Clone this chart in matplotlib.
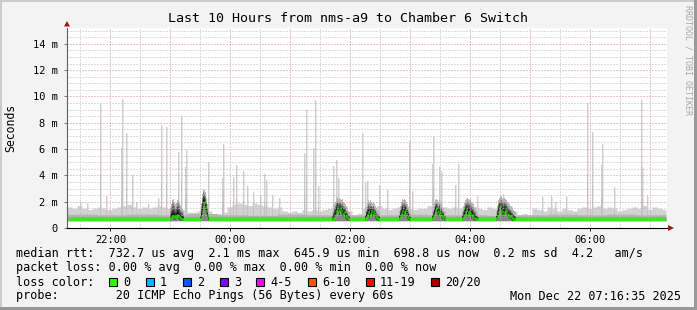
import numpy as np
import matplotlib
matplotlib.use("Agg")
import matplotlib.pyplot as plt
from matplotlib.patches import Rectangle, Polygon

# ---------------- data ----------------
START_MIN = 21 * 60 + 16 + 35 / 60.0      # left edge 21:16:35 (minutes of day)
SPAN_MIN = 600                            # 10 hours
N_DATA = 599                              # minutes with samples

# light smoke top, 5-minute bins (ms)
smoke_max_5min = [
    1.6, 1.5, 1.7, 1.5, 1.4, 1.5, 1.6, 1.5, 1.4, 1.5,
    1.6, 1.7, 1.8, 1.6, 1.5, 1.6, 1.5, 1.6, 1.7, 1.6,
    1.5, 1.7, 1.8, 1.4, 1.2, 1.2, 1.3, 1.5, 1.3, 1.1,
    1.1, 1.2, 1.6, 1.8, 1.9, 1.8, 1.7, 1.9, 1.8, 1.7,
    1.6, 1.5, 1.6, 1.3, 1.2, 1.3, 1.2, 1.4, 1.3, 1.4,
    1.3, 1.4, 1.5, 1.8, 1.9, 1.7, 1.3, 1.0, 1.1, 1.5,
    1.6, 1.6, 1.7, 1.5, 1.4, 1.5, 1.6, 1.6, 1.5, 1.4,
    1.5, 1.5, 1.7, 1.8, 1.7, 1.6, 1.5, 1.6, 1.5, 1.7,
    1.8, 1.6, 1.5, 1.4, 1.6, 1.5, 1.8, 1.9, 1.7, 1.3,
    1.0, 1.1, 1.0, 1.5, 1.4, 1.3, 1.6, 1.5, 1.3, 1.5,
    1.4, 1.3, 1.5, 1.6, 1.5, 1.6, 1.7, 1.5, 1.6, 1.5,
    1.3, 1.4, 1.5, 1.6, 1.5, 1.7, 1.4, 1.6, 1.5, 1.4,
]
# darker inner smoke top, 30-minute bins (ms)
smoke_inner_30min = [1.05, 1.0, 1.05, 1.0, 1.1, 1.0, 0.95, 1.05, 1.0, 1.0,
                     1.0, 1.05, 1.0, 1.0, 0.95, 1.0, 1.05, 1.0, 1.05, 1.0]
smoke_floor = 0.56
# median rtt, 30-minute bins (ms)
median_30min = [0.68, 0.68, 0.68, 0.68, 0.68, 0.68, 0.68, 0.68, 0.68, 0.68,
                0.68, 0.68, 0.68, 0.68, 0.68, 0.68, 0.68, 0.68, 0.68, 0.68]

# single-minute smoke spikes
spike_minute = [13, 20, 33, 39, 54, 55, 59, 65, 69, 81, 91, 94, 99, 111, 114,
                118, 119, 141, 155, 156, 166, 169, 176, 180, 186, 193, 197,
                199, 205, 212, 237, 239, 246, 248, 251, 266, 269, 271, 295,
                298, 300, 312, 320, 342, 345, 365, 366, 372, 374, 388, 391,
                410, 436, 475, 484, 488, 499, 520, 525, 534, 535, 547, 574,
                575, 580]
spike_ms = [2.0, 1.9, 9.4, 2.4, 6.1, 9.8, 7.2, 4.0, 2.0, 1.8, 2.3, 7.8, 7.7,
            5.8, 8.5, 4.6, 5.9, 5.0, 3.8, 6.4, 3.9, 4.8, 4.3, 3.2, 2.7, 2.5,
            4.1, 3.65, 2.5, 2.3, 5.7, 9.0, 6.1, 9.7, 3.2, 4.7, 5.2, 3.8, 7.2,
            3.5, 3.6, 3.3, 2.9, 6.6, 2.8, 4.9, 7.0, 4.6, 4.3, 3.3, 4.9, 2.4,
            2.6, 2.4, 2.4, 2.0, 2.4, 9.5, 7.3, 4.8, 6.4, 3.1, 9.7, 4.6, 2.4]

# busy periods: start minute, dark smoke top per minute, median per minute
busy_start = [103, 133, 265, 298, 332, 365, 395, 429]
busy_dark = [
    [1.2, 1.5, 1.8, 1.9, 1.7, 1.5, 1.6, 1.8, 1.9, 1.7, 1.4, 1.3, 1.2, 1.0, 0.9],
    [1.0, 1.6, 2.3, 2.7, 2.6, 2.4, 2.0, 1.5, 1.1, 0.9],
    [0.9, 1.2, 1.5, 1.7, 1.9, 2.0, 1.9, 2.0, 1.9, 1.8, 1.9, 1.7, 1.6, 1.5, 1.3,
     1.2, 1.0, 0.9, 0.8],
    [1.0, 1.3, 1.6, 1.8, 1.7, 1.8, 1.7, 1.6, 1.7, 1.5, 1.4, 1.2, 1.1, 1.0, 0.9,
     0.8],
    [1.0, 1.4, 1.7, 1.9, 1.8, 1.9, 1.8, 1.7, 1.5, 1.3, 1.1, 0.9, 0.8],
    [1.0, 1.3, 1.6, 1.8, 1.9, 1.8, 1.7, 1.8, 1.6, 1.5, 1.3, 1.2, 1.0, 0.9, 0.8],
    [1.0, 1.3, 1.6, 1.8, 1.9, 2.0, 1.9, 1.8, 1.9, 1.7, 1.6, 1.5, 1.3, 1.2, 1.0,
     0.9, 0.8, 0.8],
    [1.0, 1.4, 1.8, 2.0, 2.1, 2.1, 2.0, 1.9, 2.0, 1.9, 1.8, 1.7, 1.6, 1.5, 1.4,
     1.3, 1.2, 1.1, 1.0, 0.9, 0.8],
]
busy_median = [
    [0.75, 0.8, 0.85, 0.9, 0.8, 0.8, 0.9, 1.0, 0.9, 0.8, 0.75, 0.7, 0.7, 0.7, 0.7],
    [0.7, 0.9, 1.3, 1.9, 2.0, 1.6, 1.3, 1.0, 0.8, 0.7],
    [0.7, 0.75, 0.85, 1.0, 1.3, 1.6, 1.4, 1.2, 1.5, 1.3, 1.1, 1.0, 1.2, 0.9, 0.8,
     0.75, 0.7, 0.7, 0.7],
    [0.75, 0.85, 1.0, 1.2, 0.9, 1.1, 1.3, 1.0, 1.2, 1.1, 0.9, 0.8, 0.75, 0.7, 0.7,
     0.7],
    [0.75, 0.9, 1.1, 1.3, 1.0, 1.2, 1.4, 1.1, 0.9, 0.8, 0.7, 0.7, 0.7],
    [0.75, 0.85, 1.1, 1.4, 1.5, 1.2, 1.0, 1.3, 1.1, 0.9, 0.8, 0.9, 0.75, 0.7, 0.7],
    [0.75, 0.85, 1.0, 1.2, 1.4, 1.0, 1.2, 1.3, 1.1, 0.9, 1.0, 0.8, 0.75, 0.7, 0.7,
     0.7, 0.7, 0.7],
    [0.75, 0.9, 1.2, 1.6, 1.7, 1.4, 1.2, 1.0, 1.2, 1.4, 1.3, 1.1, 1.0, 0.9, 0.9,
     0.8, 0.75, 0.7, 0.7, 0.7, 0.7],
]

y_ticks = [0, 2, 4, 6, 8, 10, 12, 14]
y_tick_labels = ["0", "2 m", "4 m", "6 m", "8 m", "10 m", "12 m", "14 m"]
x_tick_hours = [22, 24, 26, 28, 30]
x_tick_labels = ["22:00", "00:00", "02:00", "04:00", "06:00"]

title = "Last 10 Hours from nms-a9 to Chamber 6 Switch"
legend_rtt = ("median rtt:  732.7 us avg  2.1 ms max  645.9 us min  "
              "698.8 us now  0.2 ms sd  4.2   am/s")
legend_loss = "packet loss: 0.00 % avg  0.00 % max  0.00 % min  0.00 % now"
loss_labels = ["0", "1", "2", "3", "4-5", "6-10", "11-19", "20/20"]
loss_colors = ["#26ff00", "#00b8ff", "#0059ff", "#7e00ff", "#ff00ff",
               "#ff5500", "#ff0000", "#a10000"]
probe_text = "probe:        20 ICMP Echo Pings (56 Bytes) every 60s"
date_text = "Mon Dec 22 07:16:35 2025"

# ---------------- build per-minute arrays ----------------
t = np.arange(N_DATA)
smax = np.repeat(np.array(smoke_max_5min), 5)[:N_DATA].astype(float)
sinner = np.repeat(np.array(smoke_inner_30min), 30)[:N_DATA].astype(float)
med = np.repeat(np.array(median_30min), 30)[:N_DATA].astype(float)
spk = np.zeros(N_DATA)
for m, v in zip(spike_minute, spike_ms):
    spk[m] = max(spk[m], v)

dark = np.full(N_DATA, np.nan)
for s, d, md in zip(busy_start, busy_dark, busy_median):
    d = np.array(d); md = np.array(md)
    dark[s:s + len(d)] = d
    med[s:s + len(md)] = md

# ---------------- figure ----------------
W, H = 697, 310
fig = plt.figure(figsize=(W / 100, H / 100), dpi=100)
fig.patch.set_facecolor("#f3f3f3")
MONO = "DejaVu Sans Mono"

def fx(x):
    return x / W

def fy(y):
    return 1 - y / H

L, R, T, B = 67, 667, 28, 228
ax = fig.add_axes([fx(L), fy(B), (R - L) / W, (B - T) / H])
ax.set_facecolor("white")
ax.set_xlim(0, SPAN_MIN)
YMAX = 15.2
ax.set_ylim(0, YMAX)

def stepfill(y1, y2, color, z):
    xs = np.append(t, N_DATA)
    a = np.append(y1, y1[-1]); b = np.append(y2, y2[-1])
    ax.fill_between(xs, a, b, step="post", color=color, lw=0, zorder=z)

floor = np.full(N_DATA, smoke_floor)
top_light = np.maximum(smax, spk)
stepfill(floor, top_light, "#d2d2d2", 1)
# spikes drawn as crisp one-minute bars
has = spk > 0
ax.bar(t[has], spk[has] - smoke_floor, bottom=smoke_floor, width=1.0,
       align="edge", color="#cecece", lw=0, zorder=1.1)
ax.bar(t[has], 0.4 * (spk[has] - smoke_floor), bottom=smoke_floor, width=1.0,
       align="edge", color="#c2c2c2", lw=0, zorder=1.2)
stepfill(floor, np.minimum(sinner, top_light), "#b2b2b2", 1.4)
stepfill(floor, np.minimum(np.full(N_DATA, 0.84), top_light), "#969696", 1.5)

# busy periods (graded smoke)
okm = ~np.isnan(dark)
dk = np.where(okm, dark, 0)
l0 = np.where(okm, dk + 0.3, np.nan)
l1 = np.where(okm, dk, np.nan)
l2 = np.where(okm, med + 0.75 * (dk - med), np.nan)
l3 = np.where(okm, med + 0.50 * (dk - med), np.nan)
l4 = np.where(okm, med + 0.25 * (dk - med), np.nan)
lo2 = np.where(okm, np.maximum(smoke_floor, med - 0.2), np.nan)
lo3 = np.where(okm, np.maximum(smoke_floor, med - 0.15), np.nan)
lo4 = np.where(okm, np.maximum(smoke_floor, med - 0.1), np.nan)
fl = np.where(okm, smoke_floor, np.nan)
stepfill(fl, l0, "#b6b6b6", 1.9)
stepfill(fl, l1, "#868686", 2)
stepfill(lo2, l2, "#585858", 2.1)
stepfill(lo3, l3, "#303030", 2.2)
stepfill(lo4, l4, "#101010", 2.3)

# grid (drawn over smoke, like rrdtool)
gray = "#bdbdbd"
red = "#ec8c8c"
dot = (0, (1, 2))
gl = []
for k in range(1, 31):
    v = k * 0.5
    if v >= YMAX:
        break
    gl.append(ax.axhline(v, color=red if k % 4 == 0 else gray, lw=0.72, ls=dot, zorder=4))
k = int(np.ceil(START_MIN / 30.0))
while k * 30 - START_MIN < SPAN_MIN:
    pos = k * 30 - START_MIN
    gl.append(ax.axvline(pos, color=red if k % 2 == 0 else gray, lw=0.72, ls=dot, zorder=4))
    k += 1
for g in gl:
    g.set_snap(True)

# median line (horizontal segments per minute)
ax.hlines(med, t, t + 1, colors="#26ff00", lw=2.2, zorder=5)

# axes styling
for s in ["top", "right"]:
    ax.spines[s].set_visible(False)
ax.spines["left"].set_color("#606060")
ax.spines["left"].set_linewidth(0.8)
ax.spines["bottom"].set_color("black")
ax.spines["bottom"].set_linewidth(0.8)
ax.spines["left"].set_zorder(6)
ax.spines["bottom"].set_zorder(6)

ax.set_yticks(y_ticks)
ax.set_yticklabels(y_tick_labels, family=MONO, fontsize=7.5)
ax.set_xticks([h * 60 - START_MIN for h in x_tick_hours])
ax.set_xticklabels(x_tick_labels, family=MONO, fontsize=7.5)
ax.tick_params(axis="y", length=2, width=0.6, color="#606060", pad=4.5)
ax.tick_params(axis="x", length=2, width=0.6, color="black", pad=3.2)

# arrows
fig.add_artist(Polygon([[fx(64), fy(26.5)], [fx(70), fy(26.5)], [fx(67), fy(21)]],
                       closed=True, transform=fig.transFigure,
                       color="#a01818", lw=0))
fig.add_artist(Polygon([[fx(668), fy(225)], [fx(668), fy(231)], [fx(674), fy(228)]],
                       closed=True, transform=fig.transFigure,
                       color="#a01818", lw=0))

# texts
fig.text(fx(348), fy(18.5), title, ha="center", va="center",
         family=MONO, fontsize=9.6)
fig.text(fx(11), fy(128), "Seconds", rotation=90, ha="center", va="center",
         family=MONO, fontsize=8.3)
fig.text(fx(688), fy(5), "RRDTOOL / TOBI OETIKER", rotation=-90, ha="center",
         va="top", family=MONO, fontsize=6, color="#a8a8a8")

LEG = 8.5
fig.text(fx(15.5), fy(254), legend_rtt, ha="left", va="center", family=MONO, fontsize=LEG)
fig.text(fx(15.5), fy(268), legend_loss, ha="left", va="center", family=MONO, fontsize=LEG)
fig.text(fx(15.5), fy(282), "loss color:", ha="left", va="center", family=MONO, fontsize=LEG)
box_x = [108.5, 145.5, 182.5, 219.5, 256, 307.5, 365.5, 430.5]
for bx, lab, col in zip(box_x, loss_labels, loss_colors):
    fig.add_artist(Rectangle((fx(bx), fy(286)), 8 / W, 8 / H, transform=fig.transFigure,
                             facecolor=col, edgecolor="black", lw=0.8))
    fig.text(fx(bx + 14.5), fy(282), lab, ha="left", va="center", family=MONO, fontsize=LEG)
fig.text(fx(15.5), fy(296), probe_text, ha="left", va="center", family=MONO, fontsize=LEG)
fig.text(fx(680.5), fy(296), date_text, ha="right", va="center", family=MONO, fontsize=LEG)

# 3D frame
fig.add_artist(Rectangle((0, fy(2)), 1, 2 / H, transform=fig.transFigure, color="#cbcbcb", lw=0))
fig.add_artist(Rectangle((0, 0), 2 / W, 1, transform=fig.transFigure, color="#cbcbcb", lw=0))
fig.add_artist(Rectangle((0, 0), 1, 3 / H, transform=fig.transFigure, color="#999999", lw=0))
fig.add_artist(Rectangle((1 - 3 / W, 0), 3 / W, 1, transform=fig.transFigure, color="#999999", lw=0))

fig.savefig("out.png", dpi=100, facecolor=fig.get_facecolor())
